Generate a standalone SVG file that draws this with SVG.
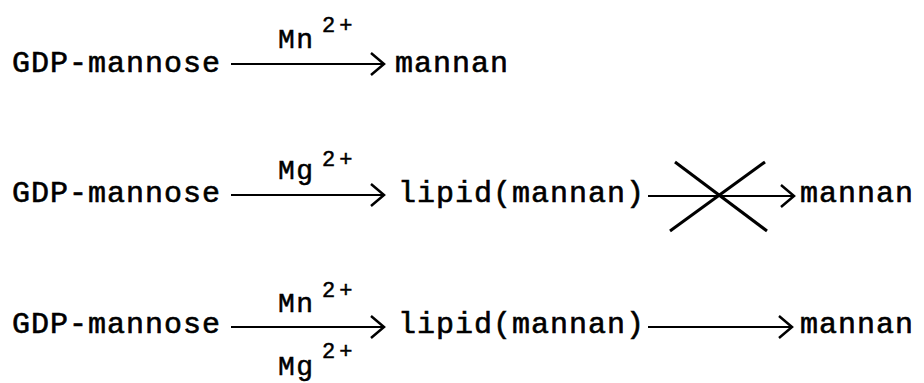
<svg xmlns="http://www.w3.org/2000/svg" width="924" height="383" viewBox="0 0 924 383">
<defs>
<style>
.t{font-family:"Liberation Mono","Courier New",monospace;font-size:30px;font-weight:normal;letter-spacing:1px;fill:#000;stroke:#000;stroke-width:0.6px}
.c{font-family:"Liberation Mono","Courier New",monospace;font-size:28px;letter-spacing:1.5px;fill:#000;stroke:#000;stroke-width:0.5px}
.s{font-family:"Liberation Mono","Courier New",monospace;font-size:22px;letter-spacing:4px;fill:#000;stroke:#000;stroke-width:0.5px}
.ln{stroke:#000;stroke-width:2;fill:none}
.x{stroke:#000;stroke-width:3;fill:none}
</style>
<marker id="ah" markerWidth="16" markerHeight="26" refX="14" refY="12" orient="auto" markerUnits="userSpaceOnUse">
<path d="M1,1 L14,12 L1,23" stroke="#000" stroke-width="2.5" fill="none"/>
</marker>
</defs>
<rect width="924" height="383" fill="#fff"/>
<g id="row1-gdp"><text class="t" x="12" y="72">GDP-mannose</text></g>
<g id="row1-mannan"><text class="t" x="395" y="72">mannan</text></g>
<g id="row2-gdp"><text class="t" x="12" y="202">GDP-mannose</text></g>
<g id="row2-lipid"><text class="t" x="398" y="202">lipid(mannan)</text></g>
<g id="row2-mannan"><text class="t" x="800" y="202">mannan</text></g>
<g id="row3-gdp"><text class="t" x="12" y="333">GDP-mannose</text></g>
<g id="row3-lipid"><text class="t" x="398" y="333">lipid(mannan)</text></g>
<g id="row3-mannan"><text class="t" x="800" y="333">mannan</text></g>
<g id="connectors">
<line class="ln" x1="231" y1="64" x2="384" y2="64" marker-end="url(#ah)"/>
<text class="c" x="278" y="48">Mn</text><text class="s" x="322" y="32">2+</text>
<line class="ln" x1="231" y1="195" x2="384" y2="195" marker-end="url(#ah)"/>
<text class="c" x="278" y="179">Mg</text><text class="s" x="322" y="166">2+</text>
<line class="ln" x1="648" y1="196" x2="794" y2="196" marker-end="url(#ah)"/>
<line class="x" x1="675" y1="162" x2="767" y2="231"/>
<line class="x" x1="670" y1="231" x2="765" y2="162"/>
<line class="ln" x1="231" y1="327" x2="384" y2="327" marker-end="url(#ah)"/>
<text class="c" x="278" y="312">Mn</text><text class="s" x="322" y="297">2+</text>
<text class="c" x="278" y="375">Mg</text><text class="s" x="322" y="358">2+</text>
<line class="ln" x1="648" y1="327" x2="792" y2="327" marker-end="url(#ah)"/>
</g>
</svg>
